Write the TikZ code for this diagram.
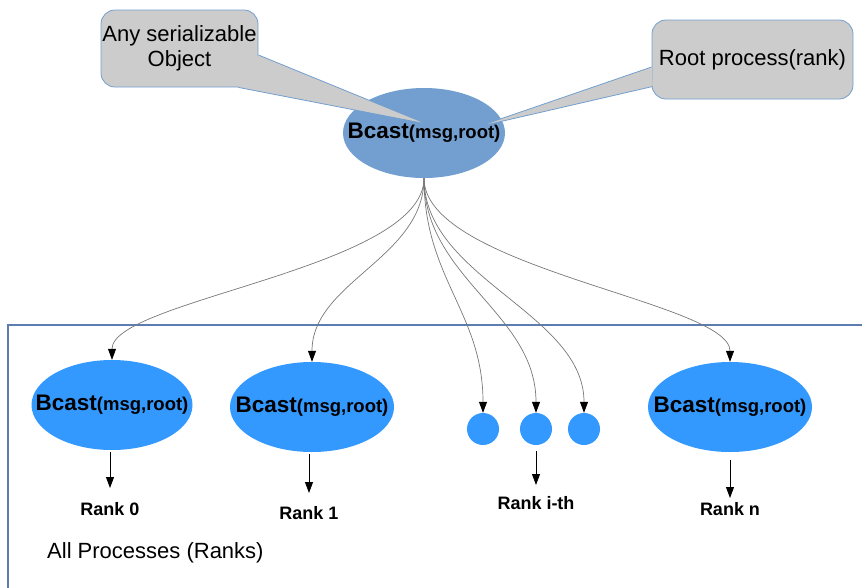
\documentclass[tikz,border=0pt]{standalone}
\usepackage{fontspec}
\setmainfont{Liberation Sans}
\usetikzlibrary{shapes.geometric,arrows.meta,calc}
\definecolor{rootblue}{HTML}{729FCF}
\definecolor{rankblue}{HTML}{3399FF}
\definecolor{notegray}{HTML}{CCCCCC}
\definecolor{frameblue}{HTML}{5B7DB1}
\definecolor{wiregray}{HTML}{777777}

\newcommand{\bcasttext}{{\fontsize{22.5}{26}\selectfont\bfseries Bcast}{\fontsize{18.5}{22}\selectfont\bfseries(msg,root)}}

\begin{document}
\begin{tikzpicture}[x=1pt,y=-1pt,
  bcast/.style={ellipse, fill=#1, inner xsep=-24pt, inner ysep=0pt, minimum width=164pt, minimum height=90pt},
  dot/.style={circle, fill=rankblue, inner sep=0pt, minimum size=32pt},
  note/.style={rectangle, rounded corners=14pt, fill=notegray, draw=rootblue, line width=0.8pt,
    align=center, inner sep=0pt, font=\fontsize{22}{25}\selectfont},
  wire/.style={draw=wiregray, line width=0.7pt, -{Triangle[length=11pt,width=8pt,color=black]}},
  drop/.style={draw=black, line width=0.8pt, -{Triangle[length=11pt,width=8pt]}},
  ranklabel/.style={font=\fontsize{18}{22}\selectfont\bfseries, inner xsep=0pt, inner ysep=14pt, anchor=north},
]
\useasboundingbox (0,0) rectangle (862,587);

% frame around the rank processes
\draw[frameblue, line width=1.6pt] (870,325) -- (8,325) -- (8,600);
\node[anchor=west, inner sep=0pt, font=\fontsize{22}{26}\selectfont] (allranks) at (47,553) {All Processes (Ranks)};

% root call
\node[bcast=rootblue, minimum width=162pt] (root) at (424,133) {\bcasttext};

% callouts
\node[note, minimum width=157pt, minimum height=77pt] (objnote) at (179.5,48.5) {Any serializable\\Object};
\coordinate (objtip) at (427,124);
\coordinate (objb1) at ($(objnote.east)+(0,6.5)$);
\coordinate (objb2) at ($(objnote.south east)+(-20,0)$);
\fill[notegray] (objb1) -- (objtip) -- (objb2) -- cycle;
\draw[rootblue, line width=0.8pt] (objb1) -- (objtip) -- (objb2);

\node[note, minimum width=201pt, minimum height=79pt] (rootnote) at (752.5,59.5) {Root process(rank)};
\coordinate (roottip) at (477,127);
\coordinate (rootb1) at ($(rootnote.west)+(0,7.5)$);
\coordinate (rootb2) at ($(rootnote.west)+(1,27)$);
\fill[notegray] (rootb1) -- (roottip) -- (rootb2) -- cycle;
\draw[rootblue, line width=0.8pt] (rootb1) -- (roottip) -- (rootb2);

% rank processes
\node[bcast=rankblue, minimum width=161pt] (r0) at (112,405) {\bcasttext};
\node[bcast=rankblue] (r1) at (312,407) {\bcasttext};
\node[dot] (d1) at (483,429) {};
\node[dot] (d2) at (536,429) {};
\node[dot] (d3) at (584,429) {};
\node[bcast=rankblue] (rn) at (730,407) {\bcasttext};

% broadcast wires
\draw[wire] (root.south) .. controls +(0,90) and +(0,-60) .. (r0.north);
\draw[wire] (root.south) .. controls +(0,80) and +(0,-80) .. (r1.north);
\draw[wire] (root.south) .. controls +(0,100) and +(0,-100) .. (d1.north);
\draw[wire] (root.south) .. controls +(0,100) and +(0,-100) .. (d2.north);
\draw[wire] (root.south) .. controls +(0,100) and +(0,-100) .. (d3.north);
\draw[wire] (root.south) .. controls +(0,90) and +(0,-60) .. (rn.north);

% rank labels
\node[ranklabel] (l0) at (110,488) {Rank 0};
\node[ranklabel, inner ysep=13pt] (l1) at (309,493) {Rank 1};
\node[ranklabel, inner ysep=11pt] (li) at (536,485) {Rank i-th};
\node[ranklabel, inner ysep=4pt] (ln) at (730,498) {Rank n};
\draw[drop] ($(r0.south)+(-2,2)$) -- (l0.north);
\draw[drop] ($(r1.south)+(-3,2)$) -- (l1.north);
\draw[drop] ($(d2.south)+(0,6)$) -- (li.north);
\draw[drop] ($(rn.south)+(0,8)$) -- (ln.north);
\end{tikzpicture}
\end{document}
